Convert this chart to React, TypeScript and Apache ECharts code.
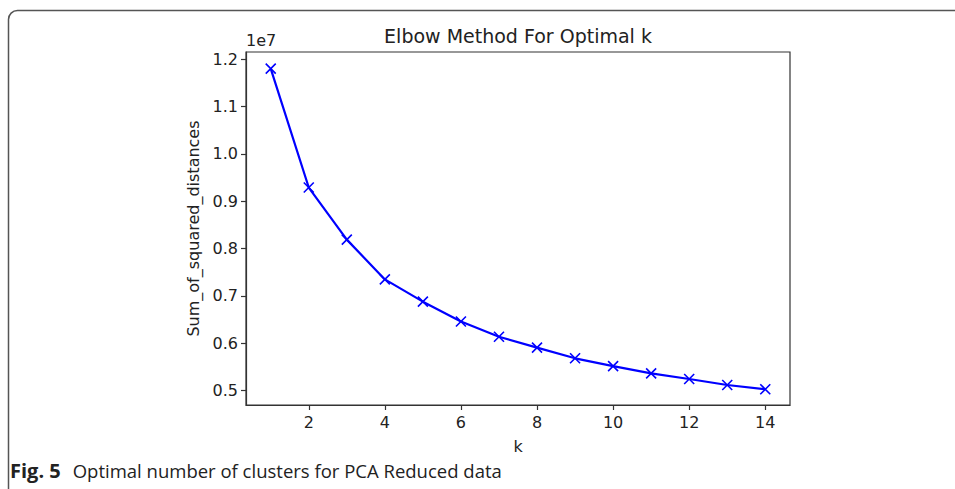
import React, { useEffect, useRef } from "react";
import * as echarts from "echarts";

const kValues = [1, 2, 3, 4, 5, 6, 7, 8, 9, 10, 11, 12, 13, 14];
const sumSquaredDistances = [
  11800000, 9290000, 8190000, 7350000, 6880000, 6460000, 6140000, 5910000,
  5684000, 5520000, 5367000, 5247000, 5120000, 5030000,
];
const xTicks = [2, 4, 6, 8, 10, 12, 14];
const yTicks = [5000000, 6000000, 7000000, 8000000, 9000000, 10000000, 11000000, 12000000];

const titleText = "Elbow Method For Optimal k";
const xName = "k";
const yName = "Sum_of_squared_distances";
const offsetText = "1e7";
const captionBold = "Fig. 5";
const captionText = "Optimal number of clusters for PCA Reduced data";

export default function App() {
  const ref = useRef<HTMLDivElement>(null);
  useEffect(() => {
    if (!ref.current) return;
    const chart = echarts.init(ref.current, undefined, { renderer: "svg" });
    const mpl = "DejaVu Sans";
    chart.setOption({
      animation: false,
      grid: {
        left: 246,
        top: 52,
        right: 165,
        bottom: 84,
        show: true,
        borderColor: "#333",
        borderWidth: 1.2,
        backgroundColor: "transparent",
      },
      xAxis: {
        type: "value",
        min: 0.35,
        max: 14.65,
        name: xName,
        nameLocation: "middle",
        nameGap: 33,
        nameTextStyle: { fontFamily: mpl, fontSize: 16, color: "#222" },
        axisLine: { show: true, onZero: false, lineStyle: { color: "#333", width: 1.2 } },
        axisTick: { show: true, length: 5, customValues: xTicks, lineStyle: { color: "#333", width: 1.2 } },
        axisLabel: {
          customValues: xTicks,
          fontFamily: mpl,
          fontSize: 16,
          color: "#222",
          margin: 9,
        },
        splitLine: { show: false },
      },
      yAxis: {
        type: "value",
        min: 4698000,
        max: 12152000,
        name: yName,
        nameLocation: "middle",
        nameGap: 44,
        nameTextStyle: { fontFamily: mpl, fontSize: 16, color: "#222" },
        axisLine: { show: true, onZero: false, lineStyle: { color: "#333", width: 1.2 } },
        axisTick: { show: true, length: 5, customValues: yTicks, lineStyle: { color: "#333", width: 1.2 } },
        axisLabel: {
          customValues: yTicks,
          fontFamily: mpl,
          fontSize: 16,
          color: "#222",
          margin: 8,
          formatter: (v: number) => (v / 1e7).toFixed(1),
        },
        splitLine: { show: false },
      },
      series: [
        {
          type: "line",
          data: kValues.map((k, i) => [k, sumSquaredDistances[i]]),
          lineStyle: { color: "#0000ff", width: 2.2 },
          symbol: "path://M0,0L10,10M10,0L0,10",
          symbolSize: 10,
          showSymbol: true,
          itemStyle: { color: "none", borderColor: "#0000ff", borderWidth: 1.6 },
        },
      ],
      graphic: [
        {
          type: "rect",
          shape: { x: 8.5, y: 10.5, width: 1200, height: 800, r: [9, 0, 0, 0] },
          style: { fill: "none", stroke: "#555", lineWidth: 1.5 },
          silent: true,
        },
        {
          type: "text",
          x: 518,
          y: 36,
          style: {
            text: titleText,
            fontFamily: mpl,
            fontSize: 19,
            fill: "#222",
            textAlign: "center",
            textVerticalAlign: "middle",
          },
        },
        {
          type: "text",
          x: 246,
          y: 40,
          style: {
            text: offsetText,
            fontFamily: mpl,
            fontSize: 16,
            fill: "#222",
            textAlign: "left",
            textVerticalAlign: "middle",
          },
        },
        {
          type: "text",
          x: 10,
          y: 470,
          style: {
            text: "{b|" + captionBold + "}{s| }{r|" + captionText + "}",
            rich: {
              b: { fontFamily: "Open Sans", fontWeight: "bold", fontSize: 20, fill: "#222" },
              s: { fontFamily: "Open Sans", fontSize: 18.5, width: 12 },
              r: { fontFamily: "Open Sans", fontSize: 18.5, fill: "#222" },
            },
            fontFamily: "Open Sans",
            fontSize: 18.5,
            textAlign: "left",
            textVerticalAlign: "middle",
          },
        },
      ],
    });
    return () => chart.dispose();
  }, []);
  return <div ref={ref} style={{ width: 955, height: 489, position: "absolute", left: 0, top: 0 }} />;
}
